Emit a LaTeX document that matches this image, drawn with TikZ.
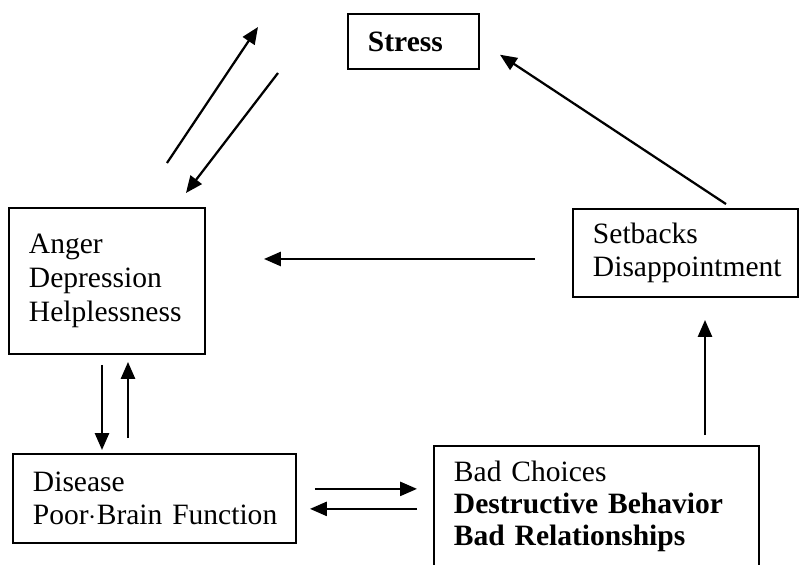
\documentclass[tikz,border=0pt]{standalone}
\usepackage{fontspec}
\setmainfont{Liberation Serif}
\usepackage{tikz}
\usetikzlibrary{arrows.meta, positioning, calc}

\begin{document}
\begin{tikzpicture}[
  box/.style={draw, line width=1.4pt, anchor=north west,
    align=left, inner xsep=0.5cm, inner ysep=2pt,
    font=\fontsize{21}{24}\selectfont},
  arr/.style={line width=1.6pt,
    -{Triangle[length=12pt, width=10pt]}}
]
\useasboundingbox (0,0) rectangle (19.975,14.1);

% Stress (top)
\node[box, text width=2.275cm, minimum height=1.375cm] (stress)
  at (8.675,13.775) {\textbf{Stress}};

% Left column
\node[box, text width=3.9cm, minimum height=3.65cm] (anger)
  at (0.2,8.925) {Anger\\Depression\\Helplessness\\[-8pt]};
\node[box, text width=6.075cm, minimum height=2.225cm] (disease)
  at (0.3,2.775) {Disease\\\mbox{Poor$\cdot$Brain Function}};

% Right column
\node[box, text width=4.625cm, minimum height=2.2cm] (setbacks)
  at (14.3,8.9) {Setbacks\\Disappointment};
\node[box, text width=7.125cm, minimum height=3.025cm] (bad)
  at (10.825,2.975) {Bad Choices\\[-1pt]\textbf{Destructive Behavior}\\[-1pt]
  \textbf{Bad Relationships}};

% Arrows
\draw[arr] ([xshift=-0.975cm, yshift=1.1cm]anger.north east)
  -- ([xshift=-2.225cm, yshift=0.3625cm]stress.west);
\draw[arr] ([xshift=-1.725cm, yshift=-0.7875cm]stress.west)
  -- ([xshift=-0.5cm, yshift=0.35cm]anger.north east);
\draw[arr, shorten <=0.18cm, shorten >=0.6cm]
  ([xshift=4cm]setbacks.north west) -- (stress.east);
\draw[arr, shorten <=0.925cm, shorten >=1.45cm]
  ([yshift=-0.15cm]setbacks.west) -- ([yshift=-0.15cm]setbacks.west -| anger.east);
\draw[arr, shorten <=0.25cm, shorten >=0.075cm]
  ([xshift=2.35cm]anger.south west) -- ([xshift=2.35cm]anger.south west |- disease.north);
\draw[arr, shorten <=0.375cm, shorten >=0.175cm]
  ([xshift=3cm]anger.south west |- disease.north) -- ([xshift=3cm]anger.south west);
\draw[arr, shorten <=0.45cm, shorten >=0.4cm]
  ([yshift=0.24cm]disease.east) -- ([yshift=0.24cm]disease.east -| bad.west);
\draw[arr, shorten <=0.4cm, shorten >=0.325cm]
  ([yshift=-0.26cm]disease.east -| bad.west) -- ([yshift=-0.26cm]disease.east);
\draw[arr, shorten <=0.25cm, shorten >=0.55cm]
  ([xshift=3.325cm]setbacks.south west |- bad.north) -- ([xshift=3.325cm]setbacks.south west);
\end{tikzpicture}
\end{document}
